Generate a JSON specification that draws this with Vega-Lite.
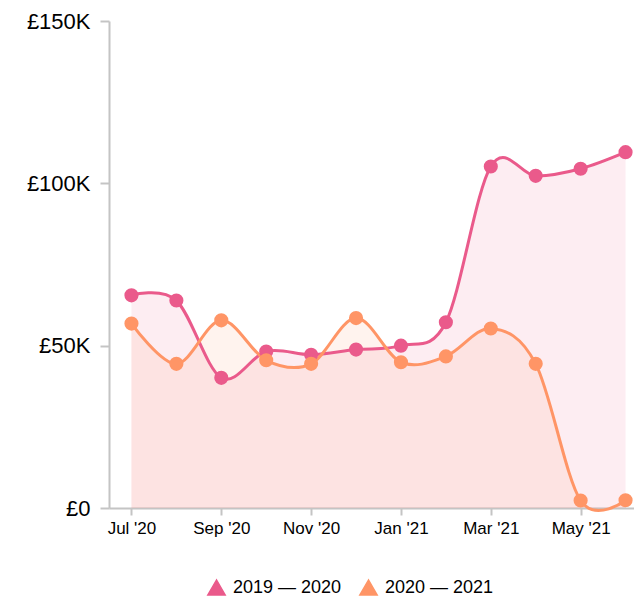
{
  "$schema": "https://vega.github.io/schema/vega-lite/v6.json",
  "width": 539,
  "height": 487,
  "autosize": {"type": "none"},
  "padding": {"left": 109, "top": 21, "right": 0, "bottom": 92},
  "config": {
    "view": {"stroke": null},
    "font": "Liberation Sans",
    "axis": {"grid": false, "domainColor": "#c4c4c4", "domainWidth": 2, "tickColor": "#c4c4c4", "tickWidth": 2, "labelColor": "#000", "labelFont": "Liberation Sans", "title": null}
  },
  "data": {
    "values": [
      {"month": "Jul '20", "series": "2019 — 2020", "value": 65500},
      {"month": "Aug '20", "series": "2019 — 2020", "value": 63900},
      {"month": "Sep '20", "series": "2019 — 2020", "value": 40100},
      {"month": "Oct '20", "series": "2019 — 2020", "value": 48200},
      {"month": "Nov '20", "series": "2019 — 2020", "value": 47200},
      {"month": "Dec '20", "series": "2019 — 2020", "value": 48800},
      {"month": "Jan '21", "series": "2019 — 2020", "value": 50000},
      {"month": "Feb '21", "series": "2019 — 2020", "value": 57200},
      {"month": "Mar '21", "series": "2019 — 2020", "value": 105200},
      {"month": "Apr '21", "series": "2019 — 2020", "value": 102300},
      {"month": "May '21", "series": "2019 — 2020", "value": 104500},
      {"month": "Jun '21", "series": "2019 — 2020", "value": 109600},
      {"month": "Jul '20", "series": "2020 — 2021", "value": 56800},
      {"month": "Aug '20", "series": "2020 — 2021", "value": 44400},
      {"month": "Sep '20", "series": "2020 — 2021", "value": 57800},
      {"month": "Oct '20", "series": "2020 — 2021", "value": 45500},
      {"month": "Nov '20", "series": "2020 — 2021", "value": 44400},
      {"month": "Dec '20", "series": "2020 — 2021", "value": 58500},
      {"month": "Jan '21", "series": "2020 — 2021", "value": 44900},
      {"month": "Feb '21", "series": "2020 — 2021", "value": 46700},
      {"month": "Mar '21", "series": "2020 — 2021", "value": 55300},
      {"month": "Apr '21", "series": "2020 — 2021", "value": 44400},
      {"month": "May '21", "series": "2020 — 2021", "value": 2300},
      {"month": "Jun '21", "series": "2020 — 2021", "value": 2400}
    ]
  },
  "encoding": {
    "x": {
      "field": "month", "type": "ordinal", "sort": null,
      "scale": {"type": "point", "padding": 0.5},
      "axis": {"values": ["Jul '20", "Sep '20", "Nov '20", "Jan '21", "Mar '21", "May '21"], "labelAngle": 0, "labelFontSize": 17, "tickSize": 7, "labelPadding": 5}
    },
    "y": {
      "field": "value", "type": "quantitative", "stack": null,
      "scale": {"domain": [0, 150000], "nice": false},
      "axis": {"values": [0, 50000, 100000, 150000], "labelFontSize": 22, "tickSize": 9, "labelPadding": 10, "labelExpr": "datum.value == 0 ? '£0' : '£' + (datum.value / 1000) + 'K'"}
    },
    "color": {
      "field": "series", "type": "nominal",
      "scale": {"domain": ["2019 — 2020", "2020 — 2021"], "range": ["#ea5a8b", "#ff9566"]},
      "legend": {"orient": "none", "legendX": 98, "legendY": 557, "direction": "horizontal", "title": null, "symbolType": "triangle-up", "symbolSize": 300, "symbolOpacity": 1, "labelFontSize": 18, "labelColor": "#000", "labelOffset": 7, "columnPadding": 14}
    }
  },
  "layer": [
    {"mark": {"type": "area", "interpolate": "cardinal", "opacity": 0.11}},
    {"mark": {"type": "line", "interpolate": "cardinal", "strokeWidth": 3}},
    {"mark": {"type": "point", "filled": true, "opacity": 1, "size": 200}}
  ]
}
